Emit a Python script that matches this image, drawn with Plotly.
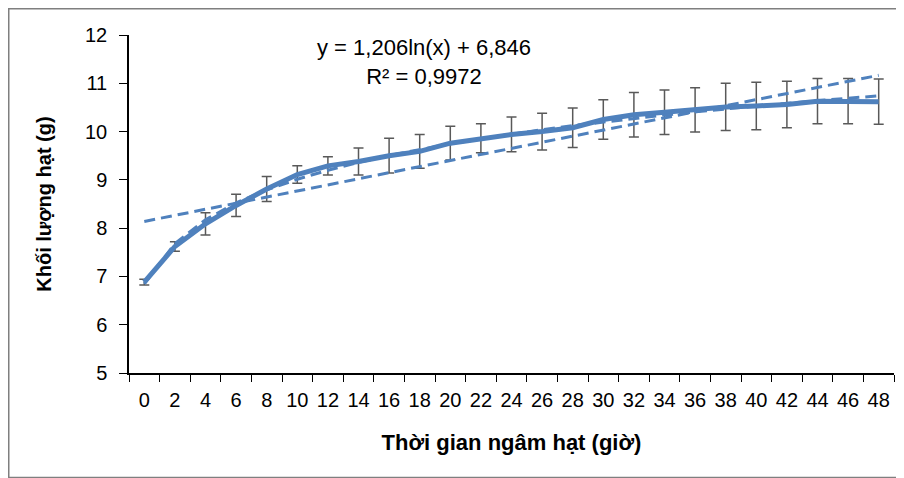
import numpy as np
import plotly.graph_objects as go

hours = [0, 2, 4, 6, 8, 10, 12, 14, 16, 18, 20, 22, 24, 26, 28, 30, 32, 34, 36, 38, 40, 42, 44, 46, 48]
mass = [6.88, 7.62, 8.09, 8.47, 8.81, 9.11, 9.29, 9.38, 9.50, 9.59, 9.76, 9.86, 9.94, 10.00, 10.08,
        10.25, 10.35, 10.40, 10.45, 10.51, 10.53, 10.56, 10.63, 10.63, 10.62]
err = [0.06, 0.10, 0.23, 0.23, 0.26, 0.18, 0.19, 0.28, 0.36, 0.35, 0.35, 0.30, 0.36, 0.38, 0.41,
       0.41, 0.46, 0.46, 0.46, 0.49, 0.49, 0.48, 0.47, 0.47, 0.47]
x_labels = [str(h) for h in hours]
eq_text = "y = 1,206ln(x) + 6,846<br>R² = 0,9972"
x_title = "Thời gian ngâm hạt (giờ)"
y_title = "Khối lượng hạt (g)"

# trendlines fitted from the data (Excel uses category index 1..n)
idx = np.arange(1, len(mass) + 1)
a_log, b_log = np.polyfit(np.log(idx), mass, 1)
log_trend = a_log * np.log(idx) + b_log
a_lin, b_lin = np.polyfit(idx, mass, 1)
lin_trend = a_lin * idx + b_lin

BLUE = "#4F81BD"
FONT = "Liberation Sans, Arial"
W, H = 904, 478
L, R, T, B = 121, 18, 27, 113

fig = go.Figure()
fig.add_trace(go.Scatter(
    x=x_labels, y=mass, mode="lines",
    line=dict(color=BLUE, width=5),
    error_y=dict(type="data", array=err, visible=True, color="#595959", thickness=1.5, width=5),
    showlegend=False))
fig.add_trace(go.Scatter(
    x=x_labels, y=log_trend, mode="lines",
    line=dict(color=BLUE, width=3, dash="11px,6px"), showlegend=False))
fig.add_trace(go.Scatter(
    x=x_labels, y=lin_trend, mode="lines",
    line=dict(color=BLUE, width=3, dash="11px,6px"), showlegend=False))

pw = W - L - R
ph = H - T - B
def px_x(p):
    return (p - L) / pw
def px_y(p):
    return (H - B - p) / ph

fig.add_annotation(x=px_x(416), y=px_y(54), xref="paper", yref="paper",
                   xanchor="center", yanchor="middle",
                   text=eq_text, showarrow=False, align="center",
                   font=dict(family=FONT, size=22, color="#000000"))

fig.add_shape(type="rect", xref="paper", yref="paper",
              x0=px_x(0.75), x1=px_x(920), y0=px_y(469.5), y1=px_y(0.75),
              line=dict(color="#7f7f7f", width=1.5), layer="below")

fig.update_layout(
    width=W, height=H,
    margin=dict(l=L, r=R, t=T, b=B),
    paper_bgcolor="white", plot_bgcolor="white",
    font=dict(family=FONT, color="#000000"),
    xaxis=dict(type="category", range=[-0.5, len(hours) - 0.5], tickson="boundaries",
               ticks="outside", ticklen=7, tickangle=0,
               tickcolor="#000000", showline=True, linecolor="#000000", linewidth=1.5,
               showgrid=False, zeroline=False, ticklabelstandoff=8,
               tickfont=dict(family=FONT, size=20),
               title=dict(text="<b>" + x_title + "</b>", standoff=25,
                          font=dict(family=FONT, size=22))),
    yaxis=dict(range=[5, 12], dtick=1, ticks="outside", ticklen=8, tickcolor="#000000",
               showline=True, linecolor="#000000", linewidth=1.5, showgrid=False, zeroline=False,
               tickfont=dict(family=FONT, size=20), ticklabelstandoff=8,
               title=dict(text="<b>" + y_title + "</b>", standoff=28,
                          font=dict(family=FONT, size=20))),
)

fig.write_html("out.html")
